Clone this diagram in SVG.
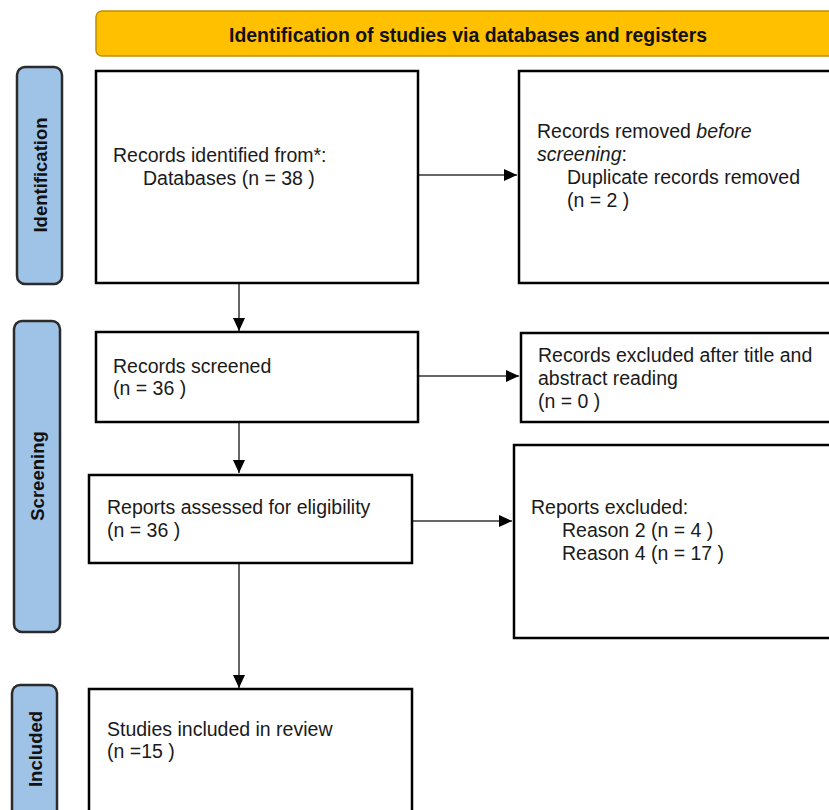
<svg xmlns="http://www.w3.org/2000/svg" width="829" height="810" viewBox="0 0 829 810">
<defs>
<style>
.box{fill:#fff;stroke:#000;stroke-width:2.5}
.bar{fill:#9FC3E7;stroke:#2b2b2b;stroke-width:2.5}
.t{font-family:"Liberation Sans",Arial,sans-serif;font-size:19.5px;fill:#1a1a1a}
.side{font-family:"Liberation Sans",Arial,sans-serif;font-size:18.5px;font-weight:bold;fill:#111}
.title{font-family:"Liberation Sans",Arial,sans-serif;font-size:20.5px;font-weight:bold;fill:#111}
.conn{stroke:#333;stroke-width:1.5;fill:none}
</style>
<marker id="arr" viewBox="0 0 13 12" refX="13" refY="6" markerWidth="13" markerHeight="12" markerUnits="userSpaceOnUse" orient="auto">
<path d="M0,0 L13,6 L0,12 z" fill="#000"/>
</marker>
</defs>
<rect width="829" height="810" fill="#fff"/>

<g id="header">
<rect x="96" y="11" width="745" height="45" rx="6" fill="#FFC000" stroke="#C09000" stroke-width="1.5"/>
<text class="title" x="468" y="42" text-anchor="middle" textLength="478" lengthAdjust="spacingAndGlyphs">Identification of studies via databases and registers</text>
</g>

<g id="bar-identification">
<rect class="bar" x="17" y="67" width="45" height="217" rx="8"/>
<text class="side" transform="translate(40,175) rotate(-90)" text-anchor="middle" dominant-baseline="central">Identification</text>
</g>
<g id="bar-screening">
<rect class="bar" x="14" y="321" width="46" height="311" rx="8"/>
<text class="side" transform="translate(37,476) rotate(-90)" text-anchor="middle" dominant-baseline="central">Screening</text>
</g>
<g id="bar-included">
<rect class="bar" x="12" y="685" width="45" height="140" rx="8"/>
<text class="side" transform="translate(35,749) rotate(-90)" text-anchor="middle" dominant-baseline="central">Included</text>
</g>

<g id="connectors">
<line class="conn" x1="418" y1="175" x2="517" y2="175" marker-end="url(#arr)"/>
<line class="conn" x1="239" y1="284" x2="239" y2="331" marker-end="url(#arr)"/>
<line class="conn" x1="418" y1="376" x2="519" y2="376" marker-end="url(#arr)"/>
<line class="conn" x1="239" y1="423" x2="239" y2="473" marker-end="url(#arr)"/>
<line class="conn" x1="412" y1="521" x2="512" y2="521" marker-end="url(#arr)"/>
<line class="conn" x1="239" y1="564" x2="239" y2="688" marker-end="url(#arr)"/>
</g>

<g id="records-identified">
<rect class="box" x="96" y="71" width="322" height="212"/>
<text class="t" x="113" y="162">Records identified from*:</text>
<text class="t" x="143" y="185">Databases (n = 38 )</text>
</g>

<g id="records-removed">
<rect class="box" x="519" y="71" width="320" height="212"/>
<text class="t" x="537" y="138">Records removed <tspan font-style="italic">before</tspan></text>
<text class="t" x="537" y="161"><tspan font-style="italic">screening</tspan>:</text>
<text class="t" x="567" y="184">Duplicate records removed</text>
<text class="t" x="567" y="207">(n = 2 )</text>
</g>

<g id="records-screened">
<rect class="box" x="96" y="332" width="322" height="90"/>
<text class="t" x="113" y="373">Records screened</text>
<text class="t" x="113" y="395">(n = 36 )</text>
</g>

<g id="records-excluded">
<rect class="box" x="521" y="333" width="320" height="89"/>
<text class="t" x="538" y="362">Records excluded after title and</text>
<text class="t" x="538" y="385">abstract reading</text>
<text class="t" x="538" y="408">(n = 0 )</text>
</g>

<g id="reports-assessed">
<rect class="box" x="89" y="475" width="323" height="88"/>
<text class="t" x="107" y="514">Reports assessed for eligibility</text>
<text class="t" x="107" y="537">(n = 36 )</text>
</g>

<g id="reports-excluded">
<rect class="box" x="514" y="445" width="325" height="193"/>
<text class="t" x="531" y="514">Reports excluded:</text>
<text class="t" x="562" y="537">Reason 2 (n = 4 )</text>
<text class="t" x="562" y="560">Reason 4 (n = 17 )</text>
</g>

<g id="studies-included">
<rect class="box" x="89" y="689" width="323" height="140"/>
<text class="t" x="107" y="736">Studies included in review</text>
<text class="t" x="107" y="758">(n =15 )</text>
</g>
</svg>
